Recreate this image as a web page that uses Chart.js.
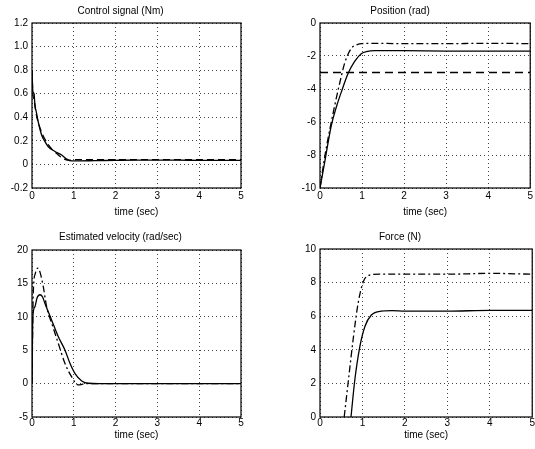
<!DOCTYPE html>
<html lang="en">
<head>
    <meta charset="UTF-8">
    <title>Simulation results</title>
    <script src="https://cdn.jsdelivr.net/npm/chart.js"></script>
    <style>
        body {
            margin: 0;
            background: #fff;
            width: 535px;
            height: 449px;
            position: relative;
            overflow: hidden;
        }
        canvas {
            position: absolute;
        }
    </style>
</head>
<body>

    <canvas id="ctrlChart" style="left:0;top:0" width="267" height="225"></canvas>
    <canvas id="posChart" style="left:267px;top:0" width="268" height="225"></canvas>
    <canvas id="velChart" style="left:0;top:225px" width="267" height="224"></canvas>
    <canvas id="forceChart" style="left:267px;top:225px" width="268" height="224"></canvas>

    <script>
        // time axis ticks (same for all four plots)
        const timeTicks = [0, 1, 2, 3, 4, 5];

        // Control signal (Nm)
        const ctrlTicks = [-0.2, 0, 0.2, 0.4, 0.6, 0.8, 1, 1.2];
        const ctrlSolidT = [0, 0.02, 0.05, 0.07, 0.1, 0.15, 0.23, 0.3, 0.39, 0.55, 0.71, 0.83, 0.95, 1.1, 1.5, 2, 2.5, 3, 3.5, 4, 4.5, 5];
        const ctrlSolidV = [0.8, 0.62, 0.6, 0.5, 0.45, 0.36, 0.25, 0.2, 0.15, 0.11, 0.08, 0.045, 0.03, 0.03, 0.032, 0.035, 0.037, 0.036, 0.036, 0.035, 0.035, 0.034];
        const ctrlDashT = [0, 0.02, 0.05, 0.1, 0.2, 0.3, 0.45, 0.6, 0.7, 0.8, 0.9, 1.0, 1.5, 2, 3, 4, 5];
        const ctrlDashV = [0.8, 0.6, 0.55, 0.43, 0.3, 0.22, 0.14, 0.09, 0.06, 0.04, 0.035, 0.04, 0.04, 0.04, 0.04, 0.04, 0.04];

        // Position (rad)
        const posTicks = [-10, -8, -6, -4, -2, 0];
        const posSolidT = [0, 0.1, 0.27, 0.4, 0.51, 0.67, 0.82, 0.98, 1.13, 1.3, 1.6, 2, 3, 4, 5];
        const posSolidV = [-10, -8.6, -6.2, -5.0, -4.16, -3.05, -2.34, -1.86, -1.72, -1.68, -1.68, -1.68, -1.7, -1.7, -1.7];
        const posDashDotT = [0, 0.12, 0.35, 0.5, 0.59, 0.74, 0.9, 1.0, 1.2, 2, 3, 4, 5];
        const posDashDotV = [-10, -8, -5, -3.3, -2.4, -1.55, -1.3, -1.25, -1.23, -1.25, -1.25, -1.23, -1.25];
        const posRefT = [0, 5];
        const posRefV = [-3, -3];

        // Estimated velocity (rad/sec)
        const velTicks = [-5, 0, 5, 10, 15, 20];
        const velSolidT = [0, 0.02, 0.07, 0.12, 0.19, 0.25, 0.31, 0.47, 0.63, 0.79, 0.91, 1.03, 1.19, 1.35, 1.6, 2, 3, 4, 5];
        const velSolidV = [0, 10, 11.5, 12.8, 13.3, 13.0, 12, 9.5, 7.0, 5.0, 3.0, 1.5, 0.4, 0.05, 0, 0, 0, 0, 0];
        const velDashDotT = [0, 0.03, 0.08, 0.14, 0.2, 0.27, 0.35, 0.5, 0.63, 0.79, 0.95, 1.1, 1.3, 2, 5];
        const velDashDotV = [0, 13.5, 16.5, 17.3, 16.5, 14.5, 11.5, 8.5, 6.0, 3.0, 1.0, -0.2, 0, 0, 0];

        // Force (N)
        const forceTicks = [0, 2, 4, 6, 8, 10];
        const forceSolidT = [0.73, 0.82, 0.94, 1.06, 1.21, 1.45, 1.7, 2, 3, 4, 5];
        const forceSolidV = [0, 2.2, 4.2, 5.4, 6.07, 6.3, 6.33, 6.3, 6.3, 6.35, 6.35];
        const forceDashDotT = [0.57, 0.67, 0.78, 0.9, 1.02, 1.17, 1.4, 2, 3, 4, 5];
        const forceDashDotV = [0, 2.2, 4.6, 6.8, 8.05, 8.45, 8.5, 8.5, 8.5, 8.55, 8.5];

        const FONT = { family: "'Liberation Sans', Arial, sans-serif", size: 10, weight: 'normal' };

        // box around the plot area like matlab axes
        const boxPlugin = {
            id: 'axesBox',
            afterDatasetsDraw(chart) {
                const a = chart.chartArea;
                const ctx = chart.ctx;
                ctx.save();
                ctx.strokeStyle = '#000';
                ctx.lineWidth = 1.2;
                ctx.setLineDash([]);
                ctx.strokeRect(a.left, a.top, a.right - a.left, a.bottom - a.top);
                ctx.restore();
            }
        };

        function pts(t, v) {
            return t.map((x, i) => ({ x: x, y: v[i] }));
        }

        function line(t, v, dash) {
            return {
                data: pts(t, v),
                borderColor: '#000',
                borderWidth: 1.3,
                borderDash: dash,
                pointRadius: 0,
                fill: false,
                cubicInterpolationMode: 'monotone'
            };
        }

        function makeChart(id, cfg) {
            const ctx = document.getElementById(id).getContext('2d');
            return new Chart(ctx, {
                type: 'line',
                data: { datasets: cfg.datasets },
                options: {
                    responsive: false,
                    animation: false,
                    layout: { padding: { left: 0, right: cfg.padRight, top: 0, bottom: 0 } },
                    plugins: {
                        legend: { display: false },
                        tooltip: { enabled: false },
                        title: {
                            display: true,
                            text: cfg.title,
                            color: '#000',
                            font: FONT,
                            padding: { top: cfg.titleTop, bottom: cfg.titleBottom }
                        }
                    },
                    scales: {
                        x: {
                            type: 'linear',
                            min: 0,
                            max: 5,
                            afterBuildTicks: s => { s.ticks = timeTicks.map(v => ({ value: v })); },
                            afterFit: s => { s.height = cfg.xHeight; },
                            grid: { color: '#444', lineWidth: 1, drawTicks: false },
                            border: { display: false, dash: [1, 3] },
                            ticks: { color: '#000', font: FONT, padding: cfg.xTickPad, maxRotation: 0 },
                            title: {
                                display: true,
                                text: 'time (sec)',
                                color: '#000',
                                font: FONT,
                                padding: { top: 0, bottom: cfg.xTitlePad }
                            }
                        },
                        y: {
                            type: 'linear',
                            min: cfg.yTicks[0],
                            max: cfg.yTicks[cfg.yTicks.length - 1],
                            afterBuildTicks: s => { s.ticks = cfg.yTicks.map(v => ({ value: v })); },
                            afterFit: s => { s.width = cfg.yWidth; },
                            grid: { color: '#444', lineWidth: 1, drawTicks: false },
                            border: { display: false, dash: [1, 3] },
                            ticks: { color: '#000', font: FONT, padding: 4 }
                        }
                    }
                },
                plugins: [boxPlugin]
            });
        }

        makeChart('ctrlChart', {
            title: 'Control signal (Nm)',
            yTicks: ctrlTicks,
            yWidth: 32, padRight: 26, titleTop: 5, titleBottom: 6,
            xHeight: 37, xTickPad: 2, xTitlePad: 7,
            datasets: [
                line(ctrlSolidT, ctrlSolidV, []),
                line(ctrlDashT, ctrlDashV, [7, 4])
            ]
        });

        makeChart('posChart', {
            title: 'Position (rad)',
            yTicks: posTicks,
            yWidth: 53, padRight: 2, titleTop: 5, titleBottom: 6,
            xHeight: 37, xTickPad: 2, xTitlePad: 7,
            datasets: [
                line(posSolidT, posSolidV, []),
                line(posDashDotT, posDashDotV, [7, 3, 2, 3]),
                line(posRefT, posRefV, [8, 5])
            ]
        });

        makeChart('velChart', {
            title: 'Estimated velocity (rad/sec)',
            yTicks: velTicks,
            yWidth: 32, padRight: 26, titleTop: 6, titleBottom: 7,
            xHeight: 32, xTickPad: 0, xTitlePad: 8,
            datasets: [
                line(velSolidT, velSolidV, []),
                line(velDashDotT, velDashDotV, [7, 3, 2, 3])
            ]
        });

        makeChart('forceChart', {
            title: 'Force (N)',
            yTicks: forceTicks,
            yWidth: 53, padRight: 2, titleTop: 6, titleBottom: 6,
            xHeight: 32, xTickPad: 0, xTitlePad: 8,
            datasets: [
                line(forceSolidT, forceSolidV, []),
                line(forceDashDotT, forceDashDotV, [7, 3, 2, 3])
            ]
        });
    </script>

</body>
</html>
